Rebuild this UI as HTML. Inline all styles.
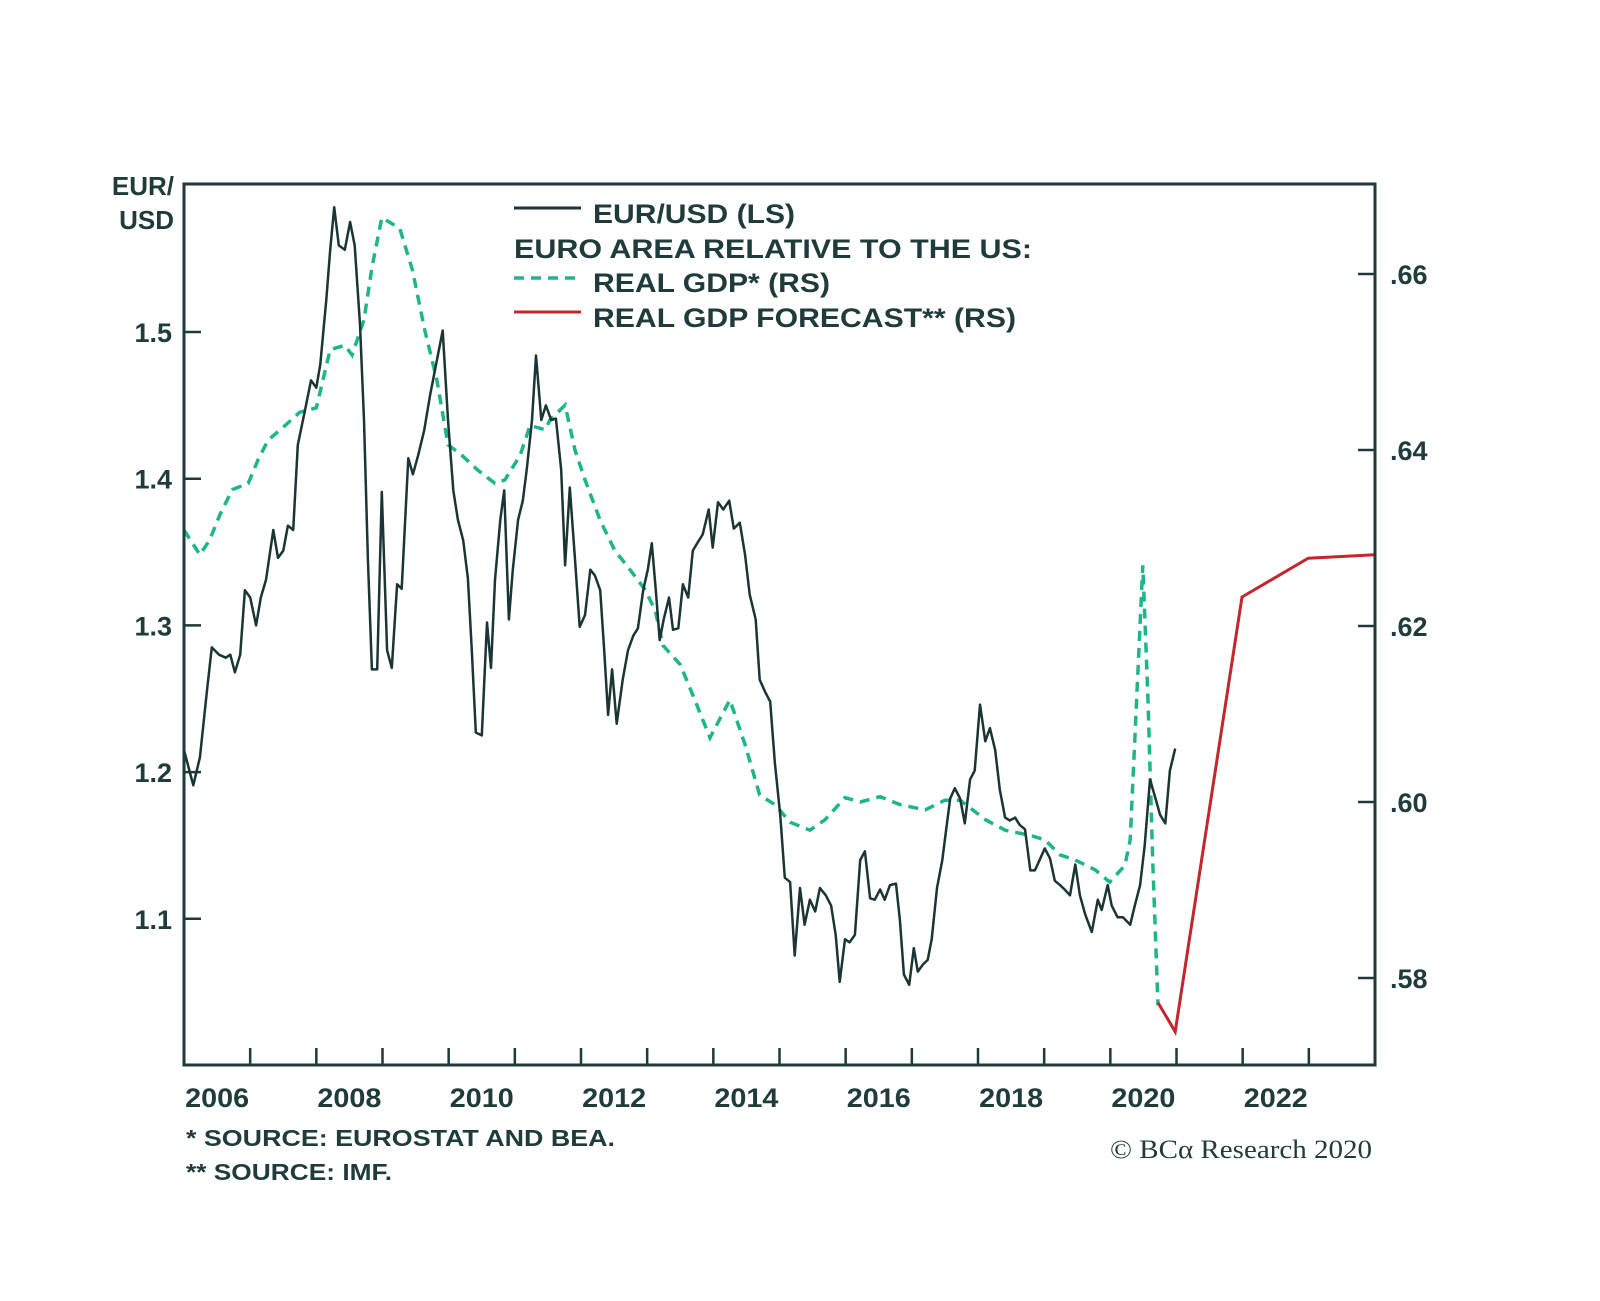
<!DOCTYPE html>
<html><head><meta charset="utf-8"><style>
body{margin:0;background:#fff}
svg text{font-family:"Liberation Sans",sans-serif;font-weight:bold;fill:#1f3b3b}
</style></head><body>
<svg width="1600" height="1296" viewBox="0 0 1600 1296" xmlns="http://www.w3.org/2000/svg">
<g id="plot"></g>
</svg>
<script>
const eurDates=[2006.00,2006.14,2006.24,2006.35,2006.42,2006.53,2006.63,2006.70,2006.77,2006.85,2006.92,2007.00,2007.09,2007.16,2007.24,2007.35,2007.42,2007.50,2007.57,2007.65,2007.72,2007.83,2007.92,2008.00,2008.06,2008.15,2008.21,2008.27,2008.34,2008.43,2008.51,2008.58,2008.66,2008.72,2008.78,2008.84,2008.92,2008.99,2009.07,2009.14,2009.22,2009.29,2009.39,2009.46,2009.54,2009.63,2009.72,2009.81,2009.91,2009.99,2010.07,2010.14,2010.22,2010.29,2010.35,2010.41,2010.50,2010.58,2010.64,2010.70,2010.78,2010.84,2010.91,2010.97,2011.05,2011.12,2011.18,2011.26,2011.32,2011.40,2011.47,2011.55,2011.62,2011.70,2011.76,2011.83,2011.91,2011.98,2012.06,2012.14,2012.21,2012.29,2012.35,2012.41,2012.47,2012.54,2012.63,2012.71,2012.79,2012.86,2012.94,2013.01,2013.07,2013.13,2013.19,2013.25,2013.33,2013.39,2013.47,2013.54,2013.62,2013.69,2013.77,2013.84,2013.93,2013.99,2014.07,2014.15,2014.24,2014.31,2014.40,2014.48,2014.55,2014.64,2014.70,2014.78,2014.86,2014.93,2015.01,2015.08,2015.16,2015.23,2015.31,2015.38,2015.46,2015.54,2015.61,2015.70,2015.78,2015.85,2015.91,2015.99,2016.06,2016.14,2016.22,2016.29,2016.37,2016.44,2016.52,2016.59,2016.67,2016.76,2016.82,2016.88,2016.96,2017.03,2017.09,2017.17,2017.24,2017.30,2017.38,2017.46,2017.52,2017.58,2017.65,2017.73,2017.80,2017.88,2017.95,2018.03,2018.11,2018.18,2018.26,2018.33,2018.41,2018.48,2018.56,2018.63,2018.71,2018.79,2018.86,2018.94,2019.01,2019.09,2019.16,2019.24,2019.31,2019.39,2019.47,2019.54,2019.62,2019.72,2019.81,2019.87,2019.96,2020.02,2020.11,2020.19,2020.30,2020.37,2020.45,2020.52,2020.60,2020.67,2020.75,2020.83,2020.90,2020.98];
const eurValues=[1.215,1.191,1.210,1.257,1.285,1.280,1.278,1.280,1.268,1.280,1.324,1.319,1.300,1.319,1.331,1.365,1.346,1.351,1.368,1.365,1.423,1.447,1.467,1.462,1.478,1.522,1.556,1.585,1.559,1.556,1.575,1.559,1.505,1.440,1.345,1.270,1.270,1.391,1.283,1.271,1.328,1.325,1.414,1.403,1.416,1.433,1.457,1.478,1.501,1.440,1.392,1.372,1.358,1.332,1.283,1.227,1.225,1.302,1.271,1.331,1.372,1.392,1.304,1.338,1.372,1.385,1.406,1.440,1.484,1.440,1.450,1.440,1.441,1.406,1.341,1.394,1.345,1.299,1.307,1.338,1.334,1.324,1.283,1.239,1.270,1.233,1.263,1.283,1.293,1.298,1.324,1.338,1.356,1.324,1.290,1.304,1.319,1.297,1.298,1.328,1.319,1.351,1.357,1.362,1.379,1.353,1.384,1.379,1.385,1.366,1.370,1.348,1.321,1.304,1.263,1.255,1.248,1.206,1.171,1.128,1.125,1.075,1.121,1.096,1.113,1.105,1.121,1.116,1.109,1.089,1.057,1.086,1.084,1.089,1.140,1.146,1.114,1.113,1.120,1.113,1.123,1.124,1.099,1.062,1.055,1.080,1.064,1.069,1.072,1.086,1.121,1.140,1.161,1.182,1.189,1.182,1.165,1.195,1.201,1.246,1.221,1.230,1.215,1.188,1.169,1.167,1.169,1.164,1.161,1.133,1.133,1.141,1.148,1.141,1.126,1.123,1.120,1.116,1.137,1.116,1.103,1.091,1.113,1.106,1.123,1.109,1.101,1.101,1.096,1.109,1.123,1.150,1.195,1.184,1.171,1.165,1.201,1.216];
const gdpDates=[2006.00,2006.24,2006.39,2006.54,2006.73,2006.97,2007.12,2007.27,2007.53,2007.75,2008.00,2008.21,2008.43,2008.54,2008.72,2008.84,2008.99,2009.26,2009.45,2009.64,2009.82,2009.99,2010.20,2010.44,2010.70,2010.85,2011.08,2011.23,2011.46,2011.53,2011.76,2011.91,2012.06,2012.29,2012.51,2012.74,2012.97,2013.12,2013.24,2013.50,2013.72,2013.95,2014.13,2014.25,2014.48,2014.70,2014.93,2015.16,2015.46,2015.69,2015.99,2016.22,2016.52,2016.82,2017.20,2017.50,2017.73,2018.11,2018.41,2018.79,2019.01,2019.24,2019.47,2019.77,2019.99,2020.22,2020.30,2020.49,2020.57,2020.64,2020.72];
const gdpValues=[.6309,.6281,.6298,.6326,.6355,.6362,.6389,.6411,.6428,.6443,.6448,.6514,.6519,.6508,.6548,.6607,.6664,.6652,.6605,.6536,.6480,.6406,.6394,.6377,.6362,.6366,.6394,.6428,.6423,.6434,.6451,.6400,.6366,.6320,.6286,.6264,.6241,.6218,.6178,.6156,.6116,.6073,.6099,.6116,.6065,.6008,.5997,.5977,.5968,.5980,.6005,.6000,.6006,.5997,.5991,.6002,.6002,.5980,.5968,.5962,.5957,.5940,.5934,.5923,.5909,.5928,.5957,.6269,.6116,.5934,.5769];
const fcDates=[2020.72,2020.98,2021.99,2022.99,2024.0];
const fcValues=[.5772,.5739,.6233,.6277,.6281];
const leftTicks=[1.1,1.2,1.3,1.4,1.5];
const leftTickLabels=["1.1","1.2","1.3","1.4","1.5"];
const rightTicks=[.58,.60,.62,.64,.66];
const rightTickLabels=[".58",".60",".62",".64",".66"];
const yearLabels=[2006,2008,2010,2012,2014,2016,2018,2020,2022];

const L=184,R=1375,T=184,B=1065;
const x=t=>L+(t-2006)*(R-L)/18;
const yl=v=>332+(1.5-v)*1467;
const yr=v=>274+(0.66-v)*8800;
const NS='http://www.w3.org/2000/svg';
const g=document.getElementById('plot');
function mk(tag,attrs,parent){const e=document.createElementNS(NS,tag);for(const k in attrs)e.setAttribute(k,attrs[k]);(parent||g).appendChild(e);return e;}
const C='#1e3a3a';
for(let yy=2007;yy<2024;yy++){const e=mk('line',{x1:x(yy),x2:x(yy),y1:B,y2:B-17,stroke:C,'stroke-width':2.5});

}
yearLabels.forEach(yv=>{const e=mk('text',{x:x(yv+0.5),y:1107,'font-size':27,'text-anchor':'middle',textLength:64,lengthAdjust:'spacingAndGlyphs'});e.textContent=yv;

});
leftTicks.forEach((v,i)=>{const e=mk('line',{x1:L,x2:L+17,y1:yl(v),y2:yl(v),stroke:C,'stroke-width':2.5});


const t=mk('text',{x:172,y:yl(v)+10,'font-size':27,'text-anchor':'end'});t.textContent=leftTickLabels[i];

});
rightTicks.forEach((v,i)=>{const e=mk('line',{x1:R-17,x2:R,y1:yr(v),y2:yr(v),stroke:C,'stroke-width':2.5});


const t=mk('text',{x:1390,y:yr(v)+10,'font-size':27});t.textContent=rightTickLabels[i];

});
function pts(d,v,f){return d.map((t,i)=>x(t).toFixed(1)+','+f(v[i]).toFixed(1)).join(' ');}
let p=mk('polyline',{points:pts(gdpDates,gdpValues,yr),fill:'none',stroke:'#1fb58c','stroke-width':3.5,'stroke-dasharray':'10 7'});


p=mk('polyline',{points:pts(fcDates,fcValues,yr),fill:'none',stroke:'#c1272d','stroke-width':3});


p=mk('polyline',{points:pts(eurDates,eurValues,yl),fill:'none',stroke:'#1b3535','stroke-width':2.5,'stroke-linejoin':'round'});


const fr=mk('rect',{x:L,y:T,width:R-L,height:B-T,fill:'none',stroke:C,'stroke-width':3});


</script>
<svg style="position:absolute;left:0;top:0" width="1600" height="1296">
<text x="174" y="195" font-size="26" text-anchor="end">EUR/</text>
<text x="174" y="229" font-size="26" text-anchor="end">USD</text>
<g>
<line x1="514" y1="208" x2="581" y2="208" stroke="#1b3535" stroke-width="3"/>
<text x="593" y="223" font-size="27" textLength="202" lengthAdjust="spacingAndGlyphs">EUR/USD (LS)</text>
<text x="514" y="258" font-size="27" textLength="518" lengthAdjust="spacingAndGlyphs">EURO AREA RELATIVE TO THE US:</text>
<line x1="514" y1="278" x2="581" y2="278" stroke="#1fb58c" stroke-width="3.5" stroke-dasharray="10 7"/>
<text x="593" y="292" font-size="27" textLength="237" lengthAdjust="spacingAndGlyphs">REAL GDP* (RS)</text>
<line x1="514" y1="312" x2="581" y2="312" stroke="#c1272d" stroke-width="3"/>
<text x="593" y="327" font-size="27" textLength="423" lengthAdjust="spacingAndGlyphs">REAL GDP FORECAST** (RS)</text>
</g>
<text x="186" y="1146" font-size="23" textLength="429" lengthAdjust="spacingAndGlyphs">*  SOURCE: EUROSTAT AND BEA.</text>
<text x="186" y="1180" font-size="23" textLength="206" lengthAdjust="spacingAndGlyphs">** SOURCE: IMF.</text>
<text x="1110" y="1158" font-size="26" textLength="262" lengthAdjust="spacingAndGlyphs" style="font-weight:normal;font-family:'Liberation Serif',serif">© BCα Research 2020</text>
</svg>
</body></html>
